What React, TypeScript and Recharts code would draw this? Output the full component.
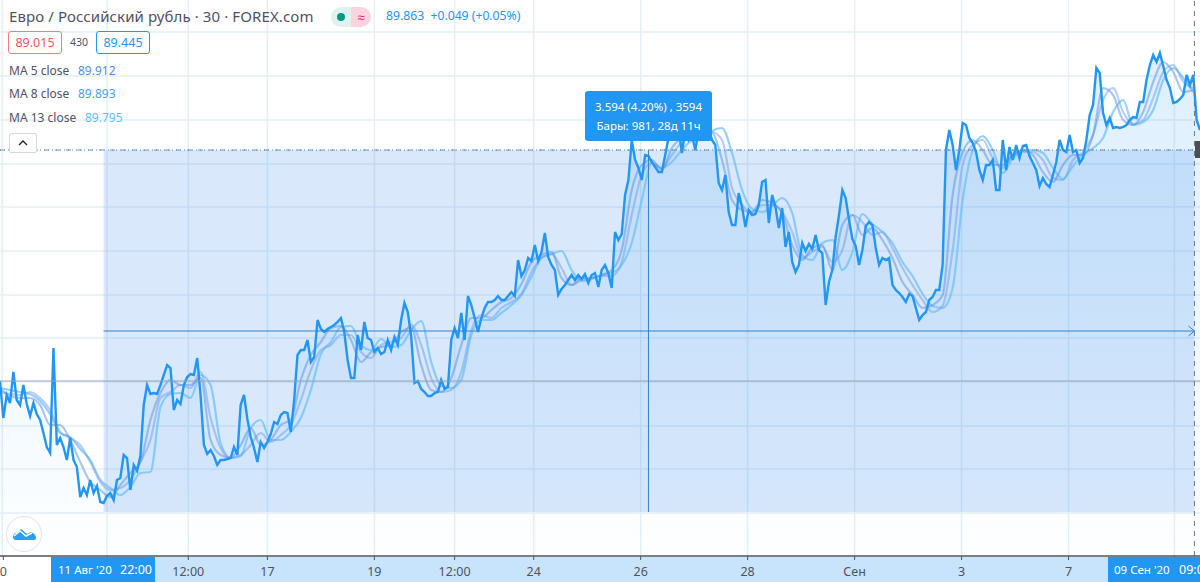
import {
  ComposedChart,
  Area,
  Line,
  XAxis,
  YAxis,
  CartesianGrid,
  ReferenceLine,
  ReferenceArea,
  ReferenceDot,
} from 'recharts';

// close, one reading every 3 bars, starting at bar -93
const closeValues = [
  87.58, 87.21, 87.44, 87.36, 87.67, 87.39, 87.34, 87.54, 87.35, 87.23, 87.36, 87.25, 87.19, 87.06, 86.92, 86.86, 87.91, 86.94, 87.01, 86.92,
  86.79, 87.01, 86.79, 86.72, 86.42, 86.51, 86.44, 86.59, 86.46, 86.53, 86.37, 86.36, 86.43, 86.46, 86.39, 86.59, 86.61, 86.84, 86.81, 86.49,
  86.74, 86.68, 86.83, 87.34, 87.54, 87.45, 87.46, 87.45, 87.54, 87.64, 87.74, 87.71, 87.29, 87.39, 87.35, 87.54, 87.62, 87.65, 87.64, 87.81,
  87.44, 86.94, 86.85, 86.89, 86.83, 86.74, 86.79, 86.79, 86.80, 86.81, 86.92, 86.84, 87.34, 87.44, 87.20, 87.02, 86.91, 86.77, 86.97, 86.91,
  86.97, 87.05, 87.17, 87.15, 87.24, 87.27, 87.26, 87.07, 87.39, 87.84, 87.89, 87.89, 87.99, 87.77, 87.82, 88.19, 88.10, 88.07, 88.10, 88.12,
  88.14, 88.17, 88.21, 88.07, 87.79, 87.61, 87.61, 88.04, 87.89, 88.17, 88.01, 87.99, 87.87, 87.91, 87.85, 87.87, 87.99, 87.89, 88.02, 87.94,
  88.19, 88.36, 88.27, 88.03, 87.56, 87.58, 87.50, 87.47, 87.43, 87.43, 87.46, 87.47, 87.59, 87.50, 87.52, 87.99, 88.11, 88.01, 88.26, 87.99,
  88.43, 88.34, 88.21, 88.07, 88.21, 88.31, 88.37, 88.37, 88.39, 88.43, 88.39, 88.39, 88.43, 88.47, 88.43, 88.79, 88.63, 88.69, 88.81, 88.78,
  88.94, 88.78, 88.87, 89.06, 88.82, 88.74, 88.69, 88.44, 88.50, 88.54, 88.59, 88.64, 88.59, 88.64, 88.60, 88.65, 88.56, 88.64, 88.66, 88.52,
  88.69, 88.74, 88.66, 88.51, 89.07, 88.99, 89.05, 89.44, 89.59, 89.99, 89.79, 89.71, 89.59, 89.84, 89.83, 89.77, 89.72, 89.67, 89.67, 89.84,
  90.01, 90.14, 90.07, 90.11, 89.86, 90.09, 89.99, 90.04, 89.89, 90.09, 90.07, 90.03, 90.11, 89.99, 89.94, 89.56, 89.49, 89.64, 89.27, 89.14,
  89.14, 89.46, 89.32, 89.12, 89.29, 89.24, 89.25, 89.34, 89.57, 89.59, 89.16, 89.44, 89.32, 89.11, 89.31, 88.92, 89.07, 88.77, 88.67, 88.74,
  88.96, 88.88, 88.95, 88.90, 89.04, 88.89, 88.86, 88.34, 88.57, 88.69, 89.02, 89.24, 89.49, 89.41, 89.19, 89.00, 88.93, 88.74, 88.89, 89.13,
  89.17, 89.14, 88.91, 88.74, 88.81, 88.79, 88.81, 88.54, 88.49, 88.46, 88.42, 88.37, 88.45, 88.43, 88.31, 88.19, 88.24, 88.27, 88.39, 88.42,
  88.49, 88.49, 88.74, 89.89, 90.09, 89.94, 89.69, 89.89, 90.16, 90.14, 90.01, 89.96, 89.87, 89.69, 89.59, 89.74, 89.74, 89.79, 89.49, 89.49,
  89.99, 89.69, 89.92, 89.79, 89.94, 89.81, 89.93, 89.94, 89.83, 89.76, 89.69, 89.53, 89.61, 89.55, 89.52, 89.64, 89.77, 89.99, 89.89, 89.87,
  90.04, 89.87, 89.89, 89.76, 89.81, 89.99, 90.24, 90.34, 90.71, 90.66, 90.26, 90.14, 90.21, 90.11, 90.12, 90.11, 90.12, 90.14, 90.19, 90.22,
  90.21, 90.37, 90.37, 90.59, 90.74, 90.84, 90.77, 90.86, 90.73, 90.59, 90.51, 90.36, 90.37, 90.40, 90.44, 90.64, 90.54, 90.64, 90.19, 90.09,
];

// moving averages, one reading every 9 bars, starting at bar -93
const ma5Values = [
  87.51, 87.43, 87.41, 87.41, 87.34, 87.14, 87.14, 86.99, 86.77, 86.57, 86.49, 86.42, 86.54, 86.66, 86.77, 87.19, 87.46, 87.59, 87.54, 87.54,
  87.61, 86.99, 86.84, 86.81, 86.94, 87.11, 86.94, 86.99, 87.14, 87.19, 87.59, 87.84, 87.97, 88.11, 88.13, 87.99, 87.77, 87.87, 87.92, 87.94,
  88.07, 88.11, 87.74, 87.49, 87.47, 87.61, 87.94, 88.21, 88.21, 88.29, 88.37, 88.41, 88.55, 88.77, 88.84, 88.87, 88.61, 88.54, 88.61, 88.61,
  88.64, 88.69, 88.89, 89.49, 89.74, 89.79, 89.69, 89.91, 90.01, 90.04, 90.04, 90.06, 89.79, 89.39, 89.29, 89.27, 89.39, 89.36, 89.26, 88.94,
  88.79, 88.91, 88.94, 88.69, 89.14, 89.24, 89.04, 89.11, 88.99, 88.81, 88.57, 88.44, 88.31, 88.34, 88.44, 89.44, 89.87, 89.99, 89.89, 89.74,
  89.74, 89.84, 89.89, 89.84, 89.67, 89.57, 89.74, 89.84, 89.84, 90.04, 90.51, 90.44, 90.19, 90.14, 90.27, 90.57, 90.77, 90.67, 90.47, 90.49,
];
const ma8Values = [
  87.47, 87.45, 87.44, 87.47, 87.41, 87.29, 87.07, 87.01, 86.94, 86.77, 86.57, 86.49, 86.51, 86.59, 86.77, 86.99, 87.41, 87.47, 87.54, 87.51,
  87.67, 87.21, 86.91, 86.81, 86.84, 86.94, 87.06, 86.97, 87.04, 87.14, 87.39, 87.69, 87.89, 87.94, 88.04, 88.04, 87.87, 87.81, 87.94, 87.97,
  88.01, 88.14, 87.94, 87.61, 87.47, 87.49, 87.67, 88.09, 88.24, 88.21, 88.31, 88.37, 88.45, 88.67, 88.81, 88.85, 88.71, 88.54, 88.59, 88.61,
  88.63, 88.63, 88.77, 89.24, 89.64, 89.76, 89.71, 89.84, 89.97, 90.01, 90.03, 90.07, 89.99, 89.51, 89.34, 89.27, 89.34, 89.34, 89.27, 89.07,
  88.81, 88.87, 88.92, 88.77, 88.89, 89.24, 89.17, 89.04, 89.07, 88.91, 88.71, 88.54, 88.39, 88.27, 88.33, 88.89, 89.74, 89.94, 89.99, 89.81,
  89.71, 89.84, 89.87, 89.87, 89.79, 89.61, 89.59, 89.79, 89.87, 90.04, 90.39, 90.51, 90.27, 90.15, 90.19, 90.41, 90.67, 90.74, 90.57, 90.51,
];
const ma13Values = [
  87.51, 87.49, 87.47, 87.45, 87.38, 87.25, 87.06, 87.02, 86.90, 86.79, 86.59, 86.51, 86.44, 86.52, 86.66, 86.67, 87.32, 87.45, 87.46, 87.41,
  87.64, 87.54, 86.96, 86.81, 86.83, 87.11, 87.19, 86.99, 86.99, 87.07, 87.21, 87.49, 87.85, 87.97, 88.12, 88.13, 87.94, 87.89, 88.00, 87.92,
  87.94, 88.09, 88.18, 87.77, 87.53, 87.51, 87.59, 88.04, 88.19, 88.19, 88.26, 88.34, 88.44, 88.62, 88.81, 88.85, 88.88, 88.69, 88.58, 88.60,
  88.64, 88.66, 88.74, 88.96, 89.39, 89.76, 89.71, 89.77, 89.89, 89.98, 89.99, 90.08, 90.11, 89.86, 89.49, 89.30, 89.27, 89.33, 89.41, 89.26,
  88.84, 88.79, 88.96, 88.99, 88.69, 88.87, 89.25, 89.15, 89.07, 88.96, 88.77, 88.63, 88.45, 88.33, 88.31, 88.51, 89.39, 89.89, 90.03, 89.89,
  89.66, 89.81, 89.88, 89.89, 89.86, 89.71, 89.60, 89.73, 89.84, 89.91, 90.01, 90.27, 90.39, 90.14, 90.17, 90.29, 90.59, 90.71, 90.61, 90.47,
];

const gridPrices = [91.07, 90.63, 90.19, 89.75, 89.32, 88.88, 88.44, 88.01, 87.57, 87.13, 86.7, 86.26];
const gridBars = [-91, 3, 76, 147, 243, 315, 386, 482, 578, 674, 770, 866, 961];
const tickBars = [-90, 3, 76, 147, 243, 315, 386, 482, 578, 674, 770, 866, 961];
const tickLabels = ['0', '', '12:00', '17', '19', '12:00', '24', '26', '28', 'Сен', '3', '7', ''];

const firstBar = -93;
const lastBar = 984;
const closeStep = 3;
const maStep = 9;

const measureStartBar = 0;
const measureEndBar = 979;
const measureMidBar = 489;
const measureLow = 86.27;
const measureHigh = 89.89;
const measureMidPrice = 88.08;
const lastPriceLine = 89.89;
const prevCloseLine = 87.58;
const cursorBar = 979;

const closeRows = closeValues.map((close, i) => ({ bar: firstBar + i * closeStep, close }));
const toMaRows = (values: number[]) => values.map((ma, i) => ({ bar: firstBar + i * maStep, ma }));

const FONT = '"Noto Sans", sans-serif';
const TEXT = '#50535e';
const BLUE = '#2196f3';
const MEASURE = '#2f83d0';

const ArrowHead = (props: any) => (
  <path
    d={`M ${props.cx - 6} ${props.cy - 5} L ${props.cx} ${props.cy} L ${props.cx - 6} ${props.cy + 5}`}
    fill="none"
    stroke={MEASURE}
    strokeWidth={1}
  />
);

const abs = (left: number, top: number, extra: any = {}) => ({
  position: 'absolute' as const,
  left,
  top,
  whiteSpace: 'pre' as const,
  ...extra,
});

const App = () => (
  <div style={{ position: 'absolute', left: 0, top: 0, width: 1200, height: 582, overflow: 'hidden', background: '#fff', fontFamily: FONT, color: TEXT }}>
    <div style={abs(155, 557, { width: 953, height: 25, background: '#c8e4fc' })} />

    <div style={{ position: 'absolute', left: 0, top: 0 }}>
      <ComposedChart width={1200} height={582} data={closeRows} margin={{ top: 0, right: 0, bottom: 0, left: 0 }}>
        <defs>
          <linearGradient id="closeFill" x1="0" y1="0" x2="0" y2="1">
            <stop offset="0%" stopColor={BLUE} stopOpacity={0.26} />
            <stop offset="100%" stopColor={BLUE} stopOpacity={0.01} />
          </linearGradient>
        </defs>
        <CartesianGrid stroke="#e6eff6" strokeWidth={1.5} horizontalValues={gridPrices} verticalValues={gridBars} />
        <XAxis
          dataKey="bar"
          type="number"
          domain={[firstBar, lastBar]}
          allowDataOverflow
          ticks={tickBars}
          interval={0}
          height={26}
          tickSize={4}
          tickMargin={7}
          tickFormatter={(v: number) => tickLabels[tickBars.indexOf(v)]}
          tick={{ fill: TEXT, fontSize: 12.5, fontFamily: FONT }}
          axisLine={{ stroke: TEXT, strokeWidth: 1.5 }}
          tickLine={{ stroke: TEXT }}
        />
        <YAxis hide type="number" domain={[85.83, 91.39]} allowDataOverflow />
        <ReferenceArea x1={measureStartBar} x2={measureEndBar} y1={measureLow} y2={measureHigh} fill="#1f78ea" fillOpacity={0.17} stroke="none" />
        <Area dataKey="close" stroke="none" fill="url(#closeFill)" isAnimationActive={false} dot={false} activeDot={false} />
        <Line data={toMaRows(ma13Values)} dataKey="ma" type="monotone" stroke="#66beff" strokeOpacity={0.7} strokeWidth={2.2} dot={false} activeDot={false} isAnimationActive={false} />
        <Line data={toMaRows(ma8Values)} dataKey="ma" type="monotone" stroke="#6f9fe6" strokeOpacity={0.5} strokeWidth={2.2} dot={false} activeDot={false} isAnimationActive={false} />
        <Line data={toMaRows(ma5Values)} dataKey="ma" type="monotone" stroke="#5a8fe0" strokeOpacity={0.5} strokeWidth={2.2} dot={false} activeDot={false} isAnimationActive={false} />
        <Line dataKey="close" type="linear" stroke={BLUE} strokeWidth={2.4} dot={false} activeDot={false} isAnimationActive={false} />
        <ReferenceLine y={prevCloseLine} stroke="#98a3b3" strokeWidth={1} />
        <ReferenceLine y={lastPriceLine} stroke="#8a8f99" strokeDasharray="5 6" />
        <ReferenceLine y={lastPriceLine} stroke={BLUE} strokeDasharray="1 3" />
        <ReferenceLine x={cursorBar} stroke="#6f7680" strokeDasharray="5 5" />
        <ReferenceLine
          stroke={MEASURE}
          segment={[
            { x: measureStartBar, y: measureMidPrice },
            { x: measureEndBar, y: measureMidPrice },
          ]}
        />
        <ReferenceLine
          stroke={MEASURE}
          segment={[
            { x: measureMidBar, y: measureLow },
            { x: measureMidBar, y: measureHigh },
          ]}
        />
        <ReferenceDot x={measureEndBar} y={measureMidPrice} r={5} shape={ArrowHead} />
      </ComposedChart>
    </div>

    <div style={abs(51, 557, { width: 104, height: 25, background: BLUE })} />
    <div style={abs(58, 557, { color: '#fff', fontSize: 11.5, lineHeight: '25px' })}>11 Авг '20</div>
    <div style={abs(120, 557, { color: '#fff', fontSize: 12.5, lineHeight: '25px' })}>22:00</div>
    <div style={abs(1108, 557, { width: 92, height: 25, background: BLUE })} />
    <div style={abs(1114, 557, { color: '#fff', fontSize: 11.5, lineHeight: '25px' })}>09 Сен '20</div>
    <div style={abs(1179, 557, { color: '#fff', fontSize: 12.5, lineHeight: '25px' })}>09:00</div>
    <div style={abs(1195, 141, { width: 5, height: 17, background: '#4a4e58' })} />

    <div style={abs(9, 5, { fontSize: 15, lineHeight: '22px', letterSpacing: 0.1 })}>Евро / Российский рубль · 30 · FOREX.com</div>
    <div style={abs(331, 7, { width: 20, height: 20, background: '#e0f2ef', borderRadius: '10px 0 0 10px' })}>
      <div style={abs(6, 6, { width: 8, height: 8, borderRadius: 4, background: '#089981' })} />
    </div>
    <div style={abs(351, 7, { width: 20, height: 20, background: '#fbd3e0', borderRadius: '0 10px 10px 0', color: '#d81b60', fontSize: 13, lineHeight: '20px', textAlign: 'center' })}>≈</div>
    <div style={abs(386, 6, { fontSize: 12.2, lineHeight: '20px', color: BLUE })}>89.863  +0.049 (+0.05%)</div>

    <div style={abs(8, 31, { width: 52, height: 21, border: '1px solid #f77c80', borderRadius: 3, color: '#f7525f', fontSize: 12.5, lineHeight: '21px', textAlign: 'center', background: '#fff' })}>89.015</div>
    <div style={abs(70, 34, { fontSize: 10.5, lineHeight: '17px' })}>430</div>
    <div style={abs(96, 31, { width: 52, height: 21, border: `1px solid ${BLUE}`, borderRadius: 3, color: BLUE, fontSize: 12.5, lineHeight: '21px', textAlign: 'center', background: '#fff' })}>89.445</div>

    <div style={abs(9, 62, { fontSize: 12, lineHeight: '18px' })}>MA 5 close</div>
    <div style={abs(78, 62, { fontSize: 12, lineHeight: '18px', color: '#4a8fe8' })}>89.912</div>
    <div style={abs(9, 85, { fontSize: 12, lineHeight: '18px' })}>MA 8 close</div>
    <div style={abs(78, 85, { fontSize: 12, lineHeight: '18px', color: '#45a1f0' })}>89.893</div>
    <div style={abs(9, 109, { fontSize: 12, lineHeight: '18px' })}>MA 13 close</div>
    <div style={abs(85, 109, { fontSize: 12, lineHeight: '18px', color: '#5cc0ff' })}>89.795</div>

    <div style={abs(9, 133, { width: 26, height: 18, border: '1px solid #d6d8de', borderRadius: 2, background: '#fff' })}>
      <svg width={26} height={18}>
        <path d="M 9 11 L 13 7 L 17 11" fill="none" stroke="#1e222d" strokeWidth={1.4} />
      </svg>
    </div>

    <div style={abs(585, 91, { width: 127, height: 50, background: BLUE, borderRadius: 3, color: '#fff', fontSize: 11.5, textAlign: 'center', lineHeight: '19px', paddingTop: 6, boxSizing: 'border-box' })}>
      <div>3.594 (4.20%) , 3594</div>
      <div>Бары: 981, 28д 11ч</div>
    </div>

    <div style={abs(6, 516, { width: 34, height: 34, border: '1px solid #e0e3eb', borderRadius: 18, background: '#fff' })}>
      <svg width={34} height={34}>
        <path d="M 6 20 Q 6 16 10 16 L 14 12 L 20 17 L 24 15 Q 29 17 29 21 Q 29 23 26 23 L 9 23 Q 6 23 6 20 Z" fill="#2a9df4" />
        <path d="M 7 19 L 13 14 L 19 19 L 25 16" fill="none" stroke="#fff" strokeWidth={1.6} />
      </svg>
    </div>
  </div>
);

export default App;
